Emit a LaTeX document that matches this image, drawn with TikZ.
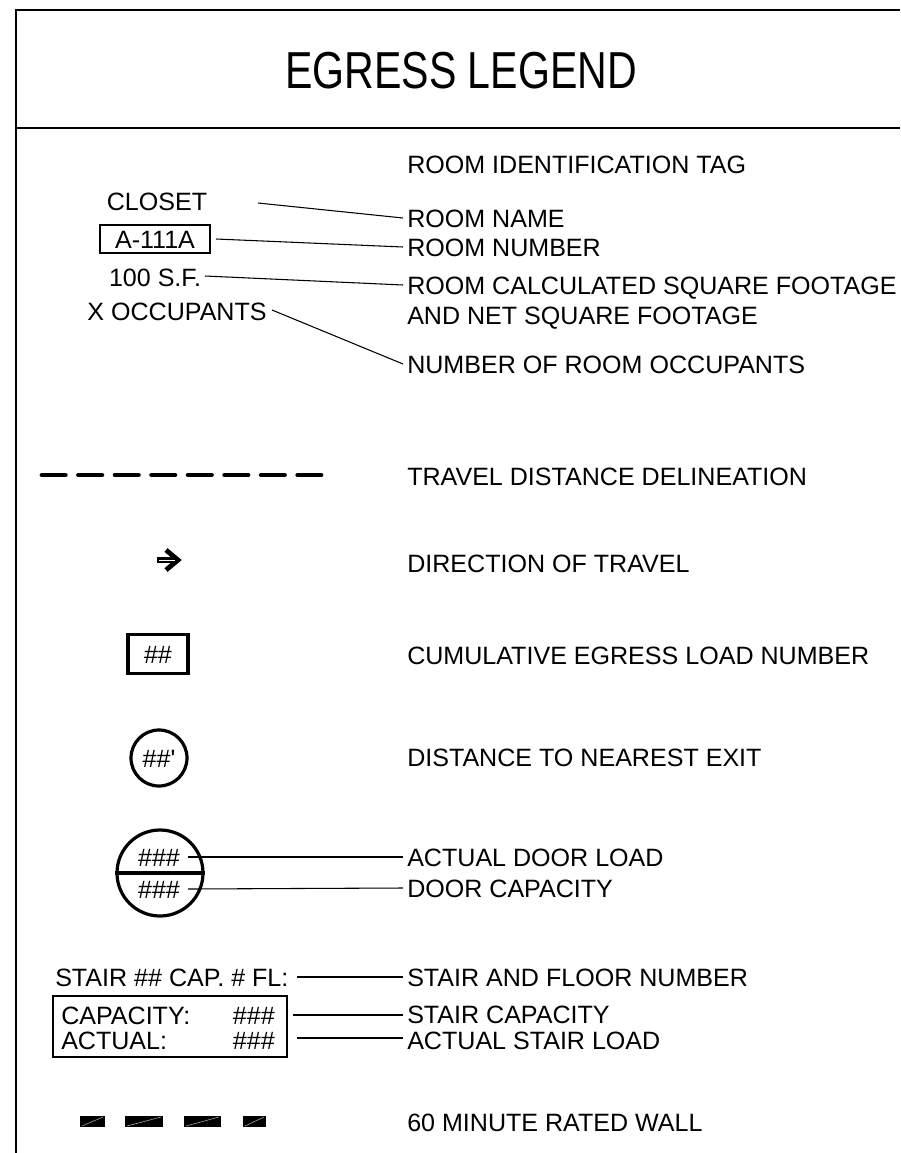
\documentclass[tikz,border=0pt]{standalone}
\usepackage{fontspec}
\setmainfont{Liberation Sans}
\newfontfamily\titlefont[FakeStretch=0.79]{Liberation Sans}
\begin{document}
\begin{tikzpicture}[x=0.75pt,y=-0.75pt,
  txt/.style={inner xsep=0pt, inner ysep=0pt, text height=13.5pt, text depth=0pt, font=\fontsize{18.8}{21}\selectfont},
  lbl/.style={txt, anchor=west},
  leader/.style={line width=0.8pt},
  frame/.style={line width=2pt},
  wallseg/.style={fill=black, draw=none}]
\useasboundingbox (0,0) rectangle (900,1153);
% frame
\draw[frame] (16,1153) -- (16,10) -- (900,10);
\draw[frame] (16,128) -- (900,128);
\node[inner sep=0pt, text height=27.9pt, text depth=0pt, font=\titlefont\fontsize{39}{42}\selectfont] (title) at (461,70) {EGRESS LEGEND};

% right column labels
\node[lbl] (l1) at (407,164) {ROOM IDENTIFICATION TAG};
\node[lbl] (l2) at (407,218) {ROOM NAME};
\node[lbl] (l3) at (407,247) {ROOM NUMBER};
\node[lbl] (l4) at (407,285) {ROOM CALCULATED SQUARE FOOTAGE};
\node[lbl] (l5) at (407,315) {AND NET SQUARE FOOTAGE};
\node[lbl] (l6) at (407,364) {NUMBER OF ROOM OCCUPANTS};
\node[lbl] (l7) at (407,476) {TRAVEL DISTANCE DELINEATION};
\node[lbl] (l8) at (407,563) {DIRECTION OF TRAVEL};
\node[lbl] (l9) at (407,655) {CUMULATIVE EGRESS LOAD NUMBER};
\node[lbl] (l10) at (407,757) {DISTANCE TO NEAREST EXIT};
\node[lbl] (l11) at (407,857) {ACTUAL DOOR LOAD};
\node[lbl] (l12) at (407,888) {DOOR CAPACITY};
\node[lbl] (l13) at (407,977) {STAIR AND FLOOR NUMBER};
\node[lbl] (l14) at (407,1014) {STAIR CAPACITY};
\node[lbl] (l15) at (407,1040) {ACTUAL STAIR LOAD};
\node[lbl] (l16) at (407,1122) {60 MINUTE RATED WALL};

% room tag
\node[txt] (closet) at (157,201) {CLOSET};
\node[txt, draw, line width=1.6pt, inner xsep=3pt, inner ysep=3.5pt, minimum width=82.5pt] (rnum) at (155,239) {A-111A};
\node[txt] (sf) at (155,277) {100 S.F.};
\node[txt] (occ) at (177,311) {X OCCUPANTS};
\coordinate (c1) at (258,203);
\coordinate (c2) at (216,239);
\coordinate (c3) at (205,276);
\coordinate (c4) at (272,310);
\draw[leader] (c1) -- ([xshift=-3pt]l2.west);
\draw[leader] (c2) -- ([xshift=-3pt]l3.west);
\draw[leader] (c3) -- ([xshift=-3pt]l4.west);
\draw[leader] (c4) -- ([xshift=-3pt]l6.west);

% travel distance
\coordinate (d1) at (42,475);
\coordinate (d2) at (324,475);
\draw[line width=3.6pt, line cap=round, dash pattern=on 17.5pt off 9.9pt] (d1) -- (d2);

% direction arrow
\coordinate (a1) at (157,560);
\coordinate (a2) at (178,560);
\draw[line width=4pt] (a1) -- ([xshift=-2pt]a2);
\draw[line width=3.6pt, line join=miter] (166,550) -- (a2) -- (166,570);
\draw[white, line width=0.5pt] (159,560) -- (175,560);

% cumulative box
\node[txt, draw, line width=2.4pt, minimum width=45pt, minimum height=29.5pt] (cum) at (158,654) {\#\#};

% distance circle
\node[txt, draw, circle, line width=2.4pt, minimum size=42pt] (dist) at (159,758) {\#\#\textquotesingle};

% door circle
\node[draw, circle, line width=2.4pt, minimum size=64.5pt, inner sep=0pt] (door) at (160,873) {};
\draw[line width=2.8pt] (door.west) -- (door.east);
\node[txt] (dl) at (159,857) {\#\#\#};
\node[txt] (dc) at (159,889) {\#\#\#};
\coordinate (e1) at (188,857);
\coordinate (e2) at (188,889);
\draw[leader] (e1) -- ([xshift=-3pt]l11.west);
\draw[leader] (e2) -- ([xshift=-3pt]l12.west);

% stair
\node[txt, anchor=west] (stair) at (55,977) {STAIR \#\# CAP. \# FL:};
\draw[line width=1.8pt] (53,996) rectangle (287,1057);
\node[txt, anchor=west] (capk) at (61,1015) {CAPACITY:};
\node[txt, anchor=west] (actk) at (61,1040) {ACTUAL:};
\node[txt, anchor=east] (capv) at (275,1015) {\#\#\#};
\node[txt, anchor=east] (actv) at (275,1040) {\#\#\#};
\coordinate (s1) at (297,977);
\coordinate (s2) at (293,1015);
\coordinate (s3) at (297,1038);
\draw[leader] (s1) -- ([xshift=-3pt]l13.west);
\draw[leader] (s2) -- ([xshift=-3pt]l14.west |- s2);
\draw[leader] (s3) -- ([xshift=-3pt]l15.west |- s3);

% rated wall
\foreach \a/\b in {80/105,125/163,184/221,243/266}{
  \fill[wallseg] (\a,1116) rectangle (\b,1127);
  \draw[gray!60, line width=0.4pt] (\a+2,1126) -- (\b-2,1117);
}
\end{tikzpicture}
\end{document}
